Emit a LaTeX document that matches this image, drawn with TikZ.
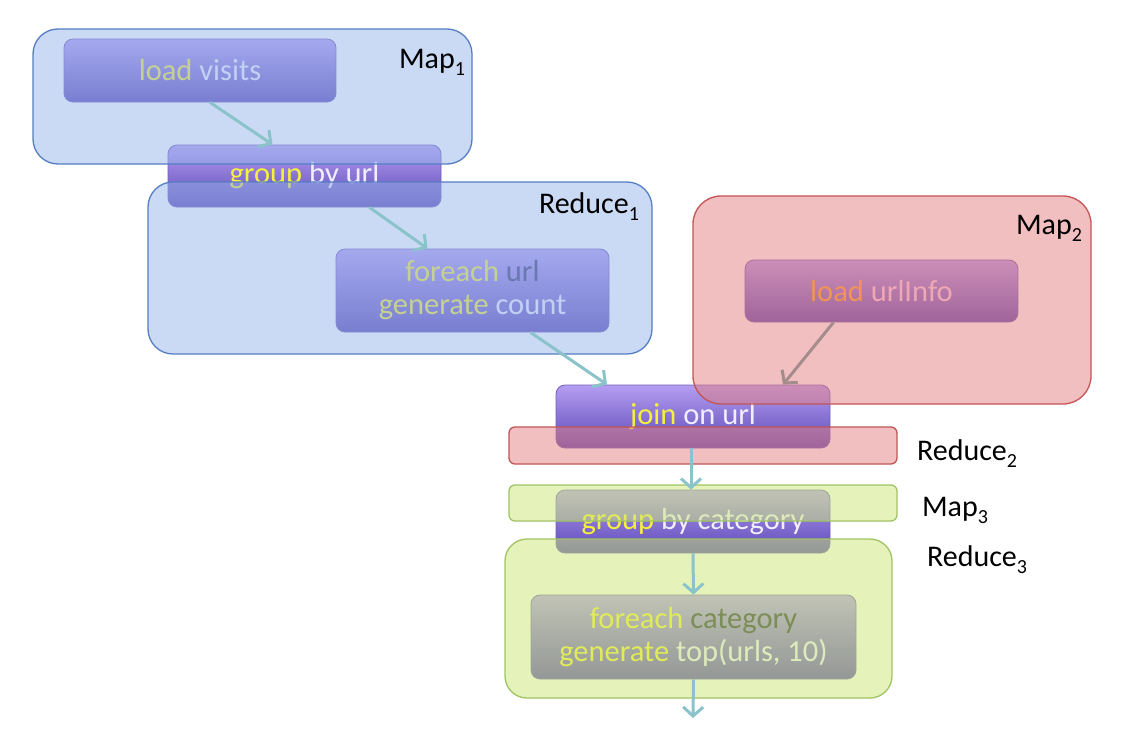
\documentclass[tikz,border=0pt]{standalone}
\usepackage{fontspec}
\setmainfont{Carlito}
\usetikzlibrary{arrows.meta,calc}
\definecolor{optop}{RGB}{180,158,242}
\definecolor{opbot}{RGB}{92,72,182}
\definecolor{opdraw}{RGB}{115,95,185}
\definecolor{kw}{RGB}{245,240,60}
\definecolor{tx}{RGB}{240,238,255}
\definecolor{dk}{RGB}{60,60,120}
\definecolor{dkg}{RGB}{45,50,55}
\definecolor{pk}{RGB}{250,210,235}
\definecolor{orng}{RGB}{255,170,40}
\definecolor{bluefill}{RGB}{150,180,235}
\definecolor{bluedraw}{RGB}{85,125,195}
\definecolor{redfill}{RGB}{228,128,128}
\definecolor{reddraw}{RGB}{195,85,85}
\definecolor{greenfill}{RGB}{205,232,120}
\definecolor{greendraw}{RGB}{160,196,100}
\definecolor{teal}{RGB}{138,196,202}
\definecolor{brownish}{RGB}{165,140,140}
\newcommand{\idx}[1]{\raisebox{-7pt}{\fontsize{20}{20}\selectfont #1}}
\begin{document}
\begin{tikzpicture}[x=1pt,y=-1pt,
  opnode/.style={rectangle, rounded corners=9pt, draw=opdraw, line width=0.8pt,
    top color=optop, bottom color=opbot, inner sep=0pt, align=center,
    font=\fontsize{30.5}{33}\selectfont},
  region/.style={rectangle, line width=1.3pt, fill opacity=0.5, draw opacity=1, inner sep=0pt},
  bluereg/.style={region, fill=bluefill, draw=bluedraw},
  redreg/.style={region, fill=redfill, draw=reddraw},
  greenreg/.style={region, fill=greenfill, draw=greendraw},
  lab/.style={font=\fontsize{30}{32}\selectfont, text=black, inner sep=0pt},
  flow/.style={draw=teal, line width=3pt, -{Straight Barb[length=9pt,width=20pt,line width=3pt]}},
  flowb/.style={flow, draw=brownish}
]
\useasboundingbox (0,0) rectangle (1124,736);
\fill[white] (0,0) rectangle (1124,736);

% operation nodes
\node[opnode, minimum width=272pt, minimum height=63pt] (lv) at (200,70.5)
  {\textcolor{kw}{load} \textcolor{tx}{visits}};
\node[opnode, minimum width=273pt, minimum height=62pt] (gu) at (304.5,176)
  {\textcolor{kw}{group} \textcolor{tx}{by url}};
\node[opnode, minimum width=273pt, minimum height=83pt] (fu) at (472.5,290.5)
  {\textcolor{kw}{foreach} \textcolor{dk}{url}\\ \textcolor{kw}{generate} \textcolor{tx}{count}};
\node[opnode, minimum width=273pt, minimum height=62pt] (lu) at (881.5,291)
  {\textcolor{orng}{load} \textcolor{pk}{urlInfo}};
\node[opnode, minimum width=274pt, minimum height=63pt] (jo) at (693,416.5)
  {\textcolor{kw}{join} \textcolor{tx}{on url}};
\node[opnode, minimum width=274pt, minimum height=63pt] (gc) at (693,521.5)
  {\textcolor{kw}{group} \textcolor{tx}{by category}};
\node[opnode, minimum width=325pt, minimum height=84pt] (fc) at (693.5,637)
  {\textcolor{kw}{foreach} \textcolor{dkg}{category}\\ \textcolor{kw}{generate} \textcolor{tx}{top(urls, 10)}};

% region boxes (semi-transparent overlays)
\node[bluereg, rounded corners=25pt, minimum width=439pt, minimum height=135pt] (map1) at (252.5,96.5) {};
\node[bluereg, rounded corners=25pt, minimum width=504pt, minimum height=172pt] (red1) at (400,268) {};
\node[redreg, rounded corners=28pt, minimum width=398pt, minimum height=208pt] (map2) at (892,300) {};
\node[redreg, rounded corners=6pt, minimum width=388pt, minimum height=37pt] (red2) at (703,445.5) {};
\node[greenreg, rounded corners=6pt, minimum width=388pt, minimum height=36pt] (map3) at (703,503) {};
\node[greenreg, rounded corners=22pt, minimum width=387pt, minimum height=159pt] (red3) at (698.5,618.5) {};

% labels
\node[lab] (lmap1) at (432,62) {Map\idx{1}};
\node[lab] (lred1) at (589,207) {Reduce\idx{1}};
\node[lab] (lmap2) at (1049,228) {Map\idx{2}};
\node[lab] (lred2) at (967,454) {Reduce\idx{2}};
\node[lab] (lmap3) at (955,510) {Map\idx{3}};
\node[lab] (lred3) at (977,560) {Reduce\idx{3}};

% connectors
\coordinate (out) at (693,718);
\draw[flow] ([xshift=10pt]lv.south) -- ([xshift=-32pt]gu.north);
\draw[flow] ([xshift=65pt]gu.south) -- ([xshift=-45pt]fu.north);
\draw[flow] ([xshift=58pt]fu.south) -- ([xshift=-86pt]jo.north);
\draw[flowb] ([xshift=-48pt]lu.south) -- ([xshift=90pt]jo.north);
\draw[flow] ([xshift=-2pt]jo.south) -- ([xshift=-2pt]gc.north);
\draw[flow] (gc.south) -- (fc.north);
\draw[flow] (fc.south) -- (out);
\end{tikzpicture}
\end{document}
